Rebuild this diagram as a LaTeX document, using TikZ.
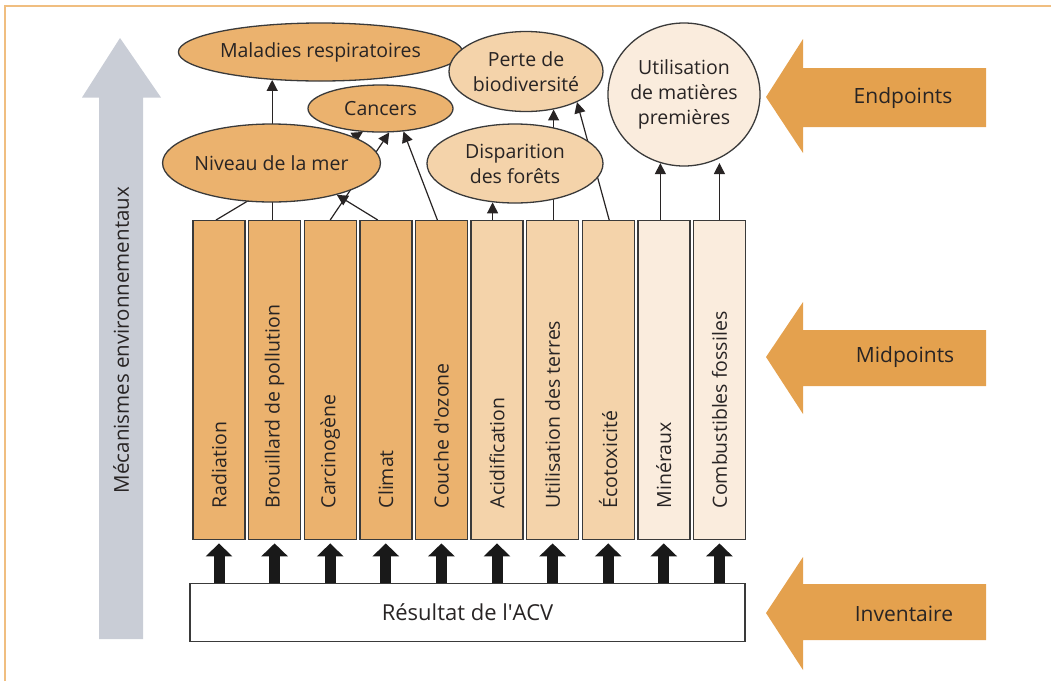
\documentclass[tikz,border=0pt]{standalone}
\usepackage{fontspec}
\setmainfont{Open Sans}
\usetikzlibrary{shapes.geometric,arrows.meta,calc}
\definecolor{dorange}{RGB}{235,178,110}
\definecolor{morange}{RGB}{244,211,170}
\definecolor{lorange}{RGB}{250,236,221}
\definecolor{sideor}{RGB}{228,161,78}
\definecolor{grayar}{RGB}{201,205,214}
\definecolor{framec}{RGB}{240,190,128}
\definecolor{textc}{RGB}{40,36,36}
\definecolor{edgec}{RGB}{58,58,58}
\pgfdeclarelayer{bg}
\pgfsetlayers{bg,main}
\tikzset{
  bar/.style={draw=edgec, line width=1.4pt, minimum width=52pt, minimum height=319pt, inner sep=0pt, anchor=north west},
  barlabel/.style={rotate=90, anchor=west, text=textc, inner sep=0pt},
  ell/.style={ellipse, draw=edgec, line width=1.3pt, inner sep=0pt, align=center, text=textc},
  conn/.style={draw=textc, line width=1.2pt, -{Triangle[length=11pt,width=11pt]}},
  fat/.style={draw=black!90, line width=11pt, -{Triangle[length=13pt,width=26pt]}, shorten >=3pt},
  sidetext/.style={text=textc, inner sep=0pt, font=\fontsize{21}{25}\selectfont},
}
\begin{document}
\begin{tikzpicture}[x=1pt,y=-1pt,font=\fontsize{19.5}{25}\selectfont]
\useasboundingbox (0,0) rectangle (1051,681);
% frame
\draw[framec, line width=2pt] (5,681) -- (5,6) -- (1051,6);
% gray vertical arrow
\fill[grayar] (99,639) -- (99,97.5) -- (82,97.5) -- (120,38) -- (161,97.5) -- (143,97.5) -- (143,639) -- cycle;
\node[rotate=90, text=textc, inner sep=0pt, font=\fontsize{20.5}{25}\selectfont] (mec) at (121,340) {Mécanismes environnementaux};
% side arrows
\fill[sideor] (766,97) -- (803,39) -- (803,68) -- (986,68) -- (986,127) -- (803,127) -- (803,153) -- cycle;
\node[sidetext] (ep) at (903,98) {Endpoints};
\fill[sideor] (766,357) -- (803,302) -- (803,330) -- (986,330) -- (986,386) -- (803,386) -- (803,414) -- cycle;
\node[sidetext] (mp) at (905,357) {Midpoints};
\fill[sideor] (766,613) -- (803,557) -- (803,584) -- (986,584) -- (986,640) -- (803,640) -- (803,670) -- cycle;
\node[sidetext] (inv) at (904,614) {Inventaire};
% bars
\foreach \i/\t/\c in {1/Radiation/dorange,2/Brouillard de pollution/dorange,3/Carcinogène/dorange,4/Climat/dorange,5/Couche d\textquotesingle ozone/dorange,6/Acidification/morange,7/Utilisation des terres/morange,8/Écotoxicité/morange,9/Minéraux/lorange,10/Combustibles fossiles/lorange}{
  \node[bar, fill=\c] (r\i) at ({192.3+55.6*(\i-1)},220) {};
  \node[barlabel] (l\i) at ($(r\i.south)+(0,-32)$) {\t};
}
% result box
\node[draw=edgec, line width=1.4pt, minimum width=555pt, minimum height=58pt, inner sep=0pt, text=textc, font=\fontsize{22}{25}\selectfont] (res) at (467.5,612.5) {Résultat de l\textquotesingle ACV};
\foreach \i in {1,...,10}{
  \draw[fat] (res.north -| r\i.south) -- (r\i.south);
}
% ellipses
\node[ell, fill=dorange, minimum width=273pt, minimum height=58pt] (mal) at (320.5,52) {Maladies respiratoires};
\node[ell, fill=dorange, minimum width=145pt, minimum height=47pt] (can) at (380.5,108.5) {Cancers};
\node[ell, fill=dorange, minimum width=175pt, minimum height=78pt] (niv) at (271.5,163) {Niveau de la mer};
\node[ell, fill=morange, minimum width=154pt, minimum height=80pt] (per) at (526,71.5) {Perte de\\biodiversité};
\node[ell, fill=morange, minimum width=176pt, minimum height=79pt] (dis) at (515,163.5) {Disparition\\des forêts};
\node[ell, fill=lorange, minimum width=150pt, minimum height=143pt] (uti) at (684,94.5) {Utilisation\\de matières\\premières};
% connectors (behind ellipses)
\begin{pgfonlayer}{bg}
\draw[conn] ($(r1.north)+(-3,0)$) -- (can.-127);
\draw[conn] (mal.-150 |- r2.north) -- (mal.-150);
\draw[conn] (r3.north) -- (can.-70);
\draw[conn] ($(r4.north)+(-8,0)$) -- (niv.-26);
\draw[conn] ($(r5.north)+(-4,0)$) -- (can.-45);
\draw[conn] (dis.-120 |- r6.north) -- (dis.-120);
\draw[conn] (per.-54 |- r7.north) -- (per.-54);
\draw[conn] ($(r8.north)+(1,0)$) -- (per.-31);
\draw[conn] (uti.-109 |- r9.north) -- (uti.-109);
\draw[conn, shorten >=4pt] (r10.north) -- (r10.north |- uti.-62);
\end{pgfonlayer}
\end{tikzpicture}
\end{document}
